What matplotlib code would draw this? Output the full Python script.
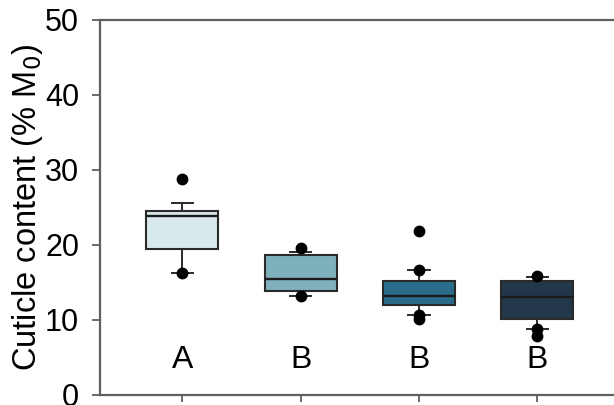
import matplotlib
matplotlib.use("Agg")
import matplotlib.pyplot as plt

plt.rcParams['font.family'] = ['Liberation Sans', 'DejaVu Sans']

# groups and box statistics (% of initial mass)
groups = ["A", "B", "B", "B"]
whis_low = [16.3, 13.2, 10.6, 8.8]
q1 = [19.4, 13.8, 12.0, 10.1]
medians = [23.9, 15.5, 13.2, 13.0]
q3 = [24.5, 18.7, 15.2, 15.2]
whis_high = [25.6, 19.1, 16.6, 15.7]
# points drawn outside / at the 10th and 90th percentiles
points = [
    [28.8, 16.3],
    [19.6, 13.2],
    [21.9, 16.6, 10.6, 10.1],
    [15.8, 8.8, 7.9],
]
colors = ["#d7e9ea", "#7fb1bc", "#2b6c8b", "#23374a"]

stats = []
for i in range(len(groups)):
    stats.append(dict(whislo=whis_low[i], q1=q1[i], med=medians[i],
                      q3=q3[i], whishi=whis_high[i], fliers=[]))

fig = plt.figure(figsize=(6.14, 4.05), dpi=100)
ax = fig.add_axes([0.163, 0.0247, 0.837 + 0.01, 0.926])

pos = [1, 2, 3, 4]
bp = ax.bxp(stats, positions=pos, widths=0.61, patch_artist=True,
            showfliers=False, capwidths=0.18,
            boxprops=dict(edgecolor="#2a2a2a", linewidth=1.5),
            medianprops=dict(color="#1a1a1a", linewidth=1.7),
            whiskerprops=dict(color="#2a2a2a", linewidth=1.4),
            capprops=dict(color="#2a2a2a", linewidth=1.4))
for patch, c in zip(bp["boxes"], colors):
    patch.set_facecolor(c)

for p, vals in zip(pos, points):
    ax.plot([p] * len(vals), vals, "o", color="black", markersize=7.5, zorder=5)

for p, g in zip(pos, groups):
    ax.text(p, 4.6, g, ha="center", va="center", fontsize=23)

ax.set_ylim(0, 50)
ax.set_xlim(0.305, 4.7)
ax.set_yticks([0, 10, 20, 30, 40, 50])
ax.set_xticks(pos)
ax.set_xticklabels([])
ax.tick_params(axis="y", labelsize=22, length=6, width=1.3, color="#606060", pad=9)
ax.tick_params(axis="x", length=5, width=1.3, color="#606060")
for s in ["left", "bottom", "top"]:
    ax.spines[s].set_color("#606060")
    ax.spines[s].set_linewidth(1.6)
ax.spines["right"].set_visible(False)

ax.set_ylabel("Cuticle content (% M$_0$)", fontsize=23.5, labelpad=0)

fig.savefig("out.png", dpi=100)
